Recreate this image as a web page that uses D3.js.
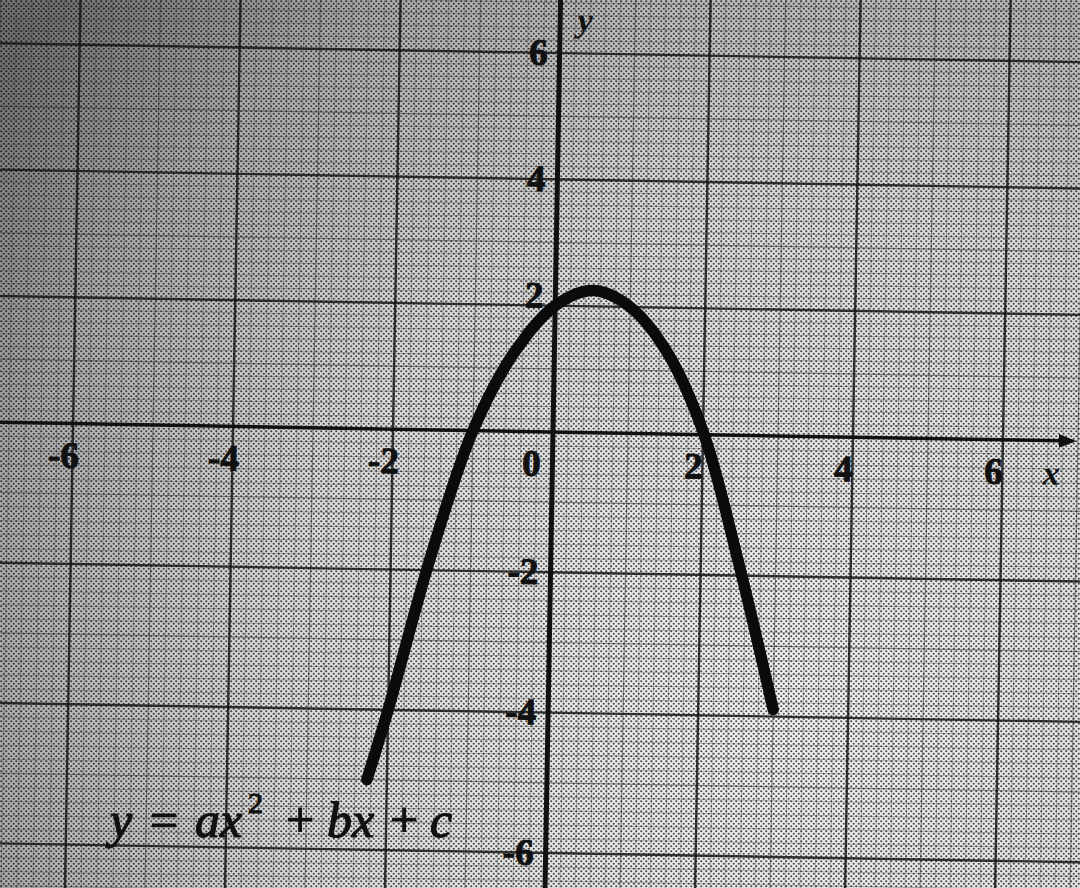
<!DOCTYPE html>
<html><head><meta charset="utf-8">
<script src="https://cdn.jsdelivr.net/npm/d3@7"></script>
<style>html,body{margin:0;padding:0;background:#fff;overflow:hidden}</style>
</head><body>
<svg id="chart" width="1080" height="888"></svg>
<script>
// ---- data ----
const xTickLabels = [-6, -4, -2, 0, 2, 4, 6];
const yTickLabels = [6, 4, 2, -2, -4, -6];
const curveX = [-2.25, -2.0, -1.5, -1.0, -0.5, 0, 0.5, 1.0, 1.5, 2.0, 2.5, 3.0];
const curveY = [-5.0, -4.0, -1.8, 0.0, 1.25, 2.0, 2.25, 2.0, 1.3, 0.05, -1.8, -3.9];
const axisNames = ["x", "y"];
const equationParts = [
  {t: "y", italic: true}, {t: "=", italic: false}, {t: "ax", italic: true},
  {t: "2", italic: false, sup: true}, {t: "+", italic: false}, {t: "bx", italic: true},
  {t: "+", italic: false}, {t: "c", italic: true}
];
const equationX = [110, 150, 195, 248, 286, 327, 390, 430];

// ---- layout ----
const W = 1080, H = 888;
const svg = d3.select("#chart");
const x = d3.scaleLinear().domain([-7, 0, 7]).range([-7, 553, 1078]);
const y = d3.scaleLinear().domain([6, 0, -6]).range([53, 432, 853]);
const serif = "'Liberation Serif','Times New Roman',serif";

const defs = svg.append("defs");
const rg = defs.append("radialGradient").attr("id", "paper")
  .attr("gradientUnits", "userSpaceOnUse")
  .attr("cx", 780).attr("cy", 700).attr("r", 1000);
[[0, "#f2f2f2"], [0.5, "#dcdcdc"], [0.8, "#acacac"], [1, "#727272"]].forEach(s =>
  rg.append("stop").attr("offset", s[0]).attr("stop-color", s[1]));
const pat = defs.append("pattern").attr("id", "dots")
  .attr("width", 5).attr("height", 5).attr("patternUnits", "userSpaceOnUse");
pat.append("circle").attr("cx", 1.25).attr("cy", 1.25).attr("r", 1.1).attr("fill", "#000");
pat.append("circle").attr("cx", 3.75).attr("cy", 3.75).attr("r", 1.1).attr("fill", "#000");
defs.append("marker").attr("id", "arrow").attr("viewBox", "0 0 10 10")
  .attr("refX", 8).attr("refY", 5).attr("markerWidth", 5).attr("markerHeight", 5)
  .attr("markerUnits", "strokeWidth").attr("orient", "auto")
  .append("path").attr("d", "M0,1 L10,5 L0,9 Z").attr("fill", "#111");

svg.append("rect").attr("width", W).attr("height", H).attr("fill", "url(#paper)");
svg.append("rect").attr("width", W).attr("height", H).attr("fill", "url(#dots)").attr("opacity", 0.68);

const g = svg.append("g").attr("transform", `rotate(1, ${x(0)}, ${y(0)})`);

// grid
const gridSteps = d3.range(-45, 46);
const gridStyle = i => (i % 10 === 0) ? {c: "#161616", w: 2.4, o: 0.85}
  : (i % 5 === 0) ? {c: "#333", w: 1.2, o: 0.55} : {c: "#444", w: 0.9, o: 0.42};
const grid = g.append("g");
gridSteps.filter(i => i !== 0).forEach(i => {
  const v = i / 5, s = gridStyle(i);
  grid.append("line").attr("x1", x(v)).attr("x2", x(v)).attr("y1", y(9)).attr("y2", y(-8))
    .attr("stroke", s.c).attr("stroke-width", s.w).attr("opacity", s.o);
  grid.append("line").attr("y1", y(v)).attr("y2", y(v)).attr("x1", x(-9)).attr("x2", x(9))
    .attr("stroke", s.c).attr("stroke-width", s.w).attr("opacity", s.o);
});

// axes
g.append("line").attr("x1", x(-7.4)).attr("x2", x(6.93)).attr("y1", y(0)).attr("y2", y(0))
  .attr("stroke", "#111").attr("stroke-width", 3.5).attr("marker-end", "url(#arrow)");
g.append("line").attr("x1", x(0)).attr("x2", x(0)).attr("y1", y(7.5)).attr("y2", y(-7.5))
  .attr("stroke", "#111").attr("stroke-width", 5);

// tick labels
const labelStyle = sel => sel.attr("font-family", serif).attr("font-weight", "bold")
  .attr("font-size", 37).attr("fill", "#111").attr("stroke", "#111").attr("stroke-width", 1);
g.append("g").selectAll("text").data(xTickLabels).join("text")
  .attr("x", d => x(d) + (d === 0 ? -21 : -9))
  .attr("y", y(0) + 44)
  .attr("text-anchor", "middle")
  .call(labelStyle)
  .text(d => String(d));
g.append("g").selectAll("text").data(yTickLabels).join("text")
  .attr("x", x(0) - 12)
  .attr("y", d => y(d) + 12 + (d === 2 ? -10 : 0))
  .attr("text-anchor", "end")
  .call(labelStyle)
  .text(d => String(d));

// axis names
g.append("text").attr("x", x(6.65)).attr("y", y(0) + 44).attr("text-anchor", "middle")
  .attr("font-family", serif).attr("font-style", "italic").attr("font-weight", "bold")
  .attr("font-size", 34).attr("fill", "#111").text(axisNames[0]);
g.append("text").attr("x", x(0) + 25).attr("y", 31).attr("text-anchor", "middle")
  .attr("font-family", serif).attr("font-style", "italic").attr("font-weight", "bold")
  .attr("font-size", 34).attr("fill", "#111").text(axisNames[1]);

// curve
const pts = curveX.map((v, i) => [v, curveY[i]]);
const line = d3.line().x(d => x(d[0])).y(d => y(d[1])).curve(d3.curveCatmullRom.alpha(0.5));
g.append("path").attr("d", line(pts)).attr("fill", "none")
  .attr("stroke", "#0b0b0b").attr("stroke-width", 11.5).attr("stroke-linecap", "round");

// equation
const eq = svg.append("g");
equationParts.forEach((p, i) => {
  eq.append("text").attr("x", equationX[i]).attr("y", p.sup ? 813 : 837)
    .attr("font-family", serif).attr("font-style", p.italic ? "italic" : "normal")
    .attr("font-size", p.sup ? 30 : 50).attr("fill", "#111")
    .attr("stroke", "#111").attr("stroke-width", 1.2)
    .text(p.t);
});
</script>
</body></html>
